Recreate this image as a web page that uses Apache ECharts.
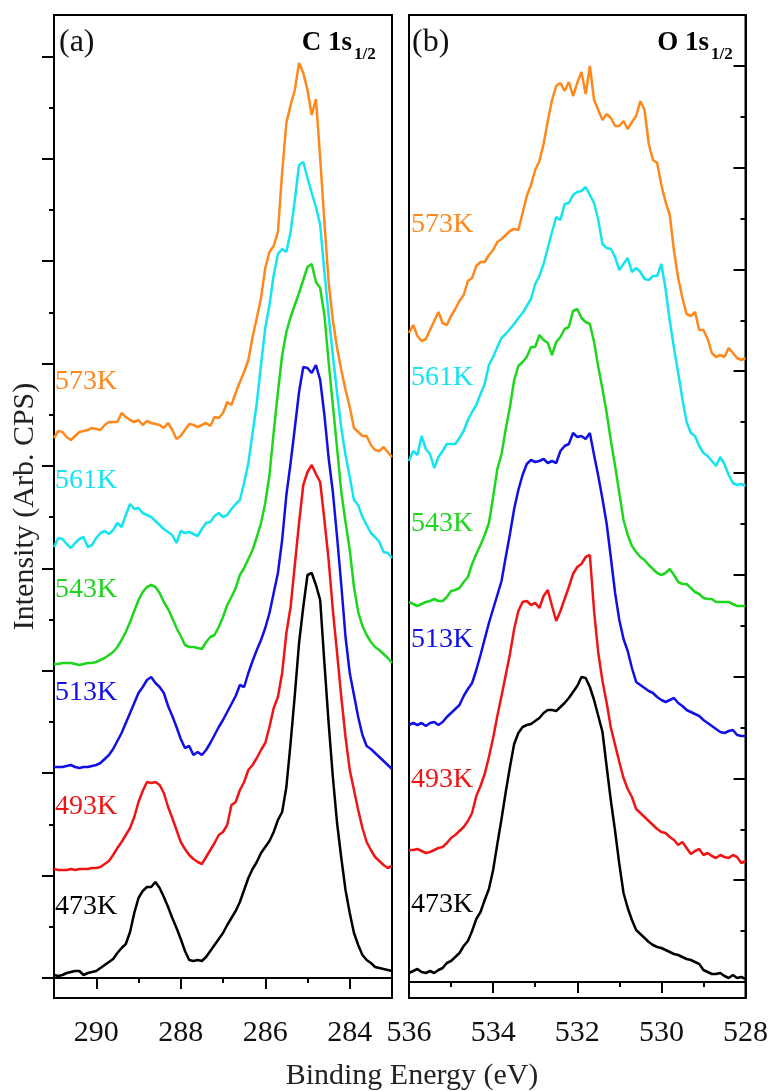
<!DOCTYPE html>
<html>
<head>
<meta charset="utf-8">
<title>XPS C 1s / O 1s</title>
<script src="https://cdn.jsdelivr.net/npm/echarts@6/dist/echarts.min.js"></script>
<style>
  html, body { margin: 0; padding: 0; background: #fff; }
  #chart { width: 771px; height: 1091px; }
</style>
</head>
<body>
<div id="chart"></div>
<script>
// binding energy grids (eV), 0.1 eV steps
const energyC = [
  291.0, 290.9, 290.8, 290.7, 290.6, 290.5, 290.4, 290.3, 290.2, 290.1,
  290.0, 289.9, 289.8, 289.7, 289.6, 289.5, 289.4, 289.3, 289.2, 289.1,
  289.0, 288.9, 288.8, 288.7, 288.6, 288.5, 288.4, 288.3, 288.2, 288.1,
  288.0, 287.9, 287.8, 287.7, 287.6, 287.5, 287.4, 287.3, 287.2, 287.1,
  287.0, 286.9, 286.8, 286.7, 286.6, 286.5, 286.4, 286.3, 286.2, 286.1,
  286.0, 285.9, 285.8, 285.7, 285.6, 285.5, 285.4, 285.3, 285.2, 285.1,
  285.0, 284.9, 284.8, 284.7, 284.6, 284.5, 284.4, 284.3, 284.2, 284.1,
  284.0, 283.9, 283.8, 283.7, 283.6, 283.5, 283.4, 283.3, 283.2, 283.1,
  283.0
]
const energyO = [
  536.0, 535.9, 535.8, 535.7, 535.6, 535.5, 535.4, 535.3, 535.2, 535.1,
  535.0, 534.9, 534.8, 534.7, 534.6, 534.5, 534.4, 534.3, 534.2, 534.1,
  534.0, 533.9, 533.8, 533.7, 533.6, 533.5, 533.4, 533.3, 533.2, 533.1,
  533.0, 532.9, 532.8, 532.7, 532.6, 532.5, 532.4, 532.3, 532.2, 532.1,
  532.0, 531.9, 531.8, 531.7, 531.6, 531.5, 531.4, 531.3, 531.2, 531.1,
  531.0, 530.9, 530.8, 530.7, 530.6, 530.5, 530.4, 530.3, 530.2, 530.1,
  530.0, 529.9, 529.8, 529.7, 529.6, 529.5, 529.4, 529.3, 529.2, 529.1,
  529.0, 528.9, 528.8, 528.7, 528.6, 528.5, 528.4, 528.3, 528.2, 528.1,
  528.0
]

const temps = ['473K', '493K', '513K', '543K', '561K', '573K']
const colors = ['#000000', '#F01414', '#1010E6', '#1ED61E', '#14E4F0', '#FF881C']

// C 1s intensities (arb. CPS, stacked offsets included)
const c473 = [3,2,3,5,6,7,7,3,5,6, 7,10,13,16,19,25,30,34,46,65, 80,87,91,91,96,90,81,71,60,50, 39,27,18,17,18,17,21,27,33,39, 45,53,60,67,76,88,100,109,116,125, 131,137,146,158,166,191,235,283,335,371, 403,405,393,378,315,255,201,155,120,88, 65,45,33,23,18,15,11,10,9,8, 7]
const c493 = [109,108,108,108,109,108,109,109,109,110, 110,111,114,117,123,130,136,143,150,161, 176,187,196,195,196,193,185,171,160,148, 136,129,123,119,116,114,121,128,135,143, 146,153,173,176,188,196,208,213,220,228, 235,251,270,281,305,345,371,413,455,493, 506,513,504,496,458,418,368,325,281,241, 208,188,168,150,136,128,121,117,113,110, 112]
const c513 = [211,211,211,212,213,211,210,211,211,212, 213,215,219,223,229,237,245,255,265,275, 285,291,298,301,295,291,285,272,262,251, 239,230,232,223,226,223,228,235,243,251, 258,266,274,282,293,291,305,317,328,338, 350,365,385,405,438,483,515,550,586,611, 610,605,613,598,563,520,486,441,393,341, 305,283,261,243,232,229,225,221,217,213, 209]
const c543 = [314,314,315,315,315,314,313,314,315,315, 316,318,320,323,326,331,338,346,356,367, 378,386,391,393,391,385,376,369,360,350, 342,333,331,331,330,329,336,341,343,351, 361,373,381,390,403,410,419,428,441,455, 475,503,546,586,623,646,661,673,685,698, 711,714,696,690,663,616,573,530,486,456, 428,391,366,352,343,336,331,328,324,320, 315]
const c561 = [431,440,439,434,430,435,439,441,431,433, 440,445,447,444,448,455,451,463,474,469, 470,465,463,461,457,453,449,446,443,435, 447,445,446,444,442,449,455,456,462,465, 461,463,469,474,478,495,515,545,575,613, 650,673,703,724,729,726,746,778,813,816, 800,785,771,753,706,663,623,585,550,523, 501,478,473,461,453,445,441,436,426,425, 420]
const c573 = [540,547,546,541,538,542,546,547,548,550, 549,548,553,556,556,556,565,561,558,556, 558,553,557,555,554,553,550,555,548,539, 542,548,554,553,551,553,555,552,561,560, 565,576,573,585,596,606,618,641,660,680, 710,726,732,746,806,855,873,888,915,905, 888,863,879,820,756,696,658,630,608,588, 571,550,546,542,542,533,528,527,531,526, 521]

// O 1s intensities (arb. CPS, stacked offsets included)
const o473 = [9,11,13,10,9,11,9,12,14,19, 21,25,29,36,41,51,63,70,82,93, 112,138,163,190,215,238,249,255,257,258, 261,264,269,272,272,271,275,279,284,290, 296,305,304,295,282,266,250,215,181,151, 118,89,74,62,52,48,44,40,37,35, 34,32,30,28,27,25,23,22,20,18, 12,10,8,8,9,6,4,7,4,5, 3]
const o493 = [132,132,133,131,129,130,132,134,135,139, 144,147,151,155,161,169,186,196,208,225, 244,266,286,307,328,353,371,380,381,377, 379,374,386,392,376,361,371,383,395,408, 415,418,425,427,371,329,301,279,254,237, 220,204,193,185,173,169,165,161,157,153, 150,149,145,142,137,140,134,128,131,133, 127,129,126,124,127,125,124,127,125,119, 121]
const o513 = [257,259,257,259,256,259,260,257,260,265, 269,273,277,286,293,299,312,327,343,359, 373,387,401,425,448,473,492,507,518,522, 520,521,523,519,521,519,531,536,538,549, 545,546,543,549,527,506,483,458,424,389, 362,343,331,314,300,297,294,291,289,285, 282,280,282,284,279,276,272,270,268,266, 262,259,256,253,250,249,251,252,247,246, 246]
const o543 = [380,378,376,378,380,381,383,381,381,385, 391,392,394,400,405,418,428,437,447,459, 485,513,528,553,575,602,616,620,625,635, 635,647,642,639,627,640,645,653,655,671, 673,664,660,658,640,615,593,569,541,516, 489,462,447,436,430,425,422,417,413,409, 407,409,413,407,400,398,398,394,390,388, 384,383,383,380,380,380,380,378,376,376, 376]
const o561 = [521,531,527,546,533,528,514,525,531,538, 538,538,544,551,562,570,577,588,598,617, 625,635,644,648,653,658,664,669,676,683, 698,706,718,734,750,765,762,778,779,787, 790,791,795,787,779,762,738,734,733,725, 712,718,724,710,714,710,703,702,706,706, 718,693,661,634,609,583,560,549,546,536, 529,526,521,516,525,518,507,499,497,498, 496]
const o573 = [649,657,646,641,643,652,661,670,659,657, 666,673,681,687,701,704,716,720,720,727, 732,740,743,747,751,753,752,769,786,797, 812,821,838,861,882,896,899,891,900,886, 899,910,888,916,882,872,862,868,864,856, 856,861,853,860,866,881,872,838,822,819, 797,780,767,731,704,684,668,666,670,652, 652,643,629,625,627,625,634,629,624,622, 624]

// x tick values
const cMajor = [284, 286, 288, 290]
const cMinor = [283, 285, 287, 289, 291]
const oMajor = [528, 530, 532, 534, 536]
const oMinor = [529, 531, 533, 535]

const seriesC = [c473, c493, c513, c543, c561, c573]
const seriesO = [o473, o493, o513, o543, o561, o573]

// ---- layout (pixels) ----
const FONT = '"Liberation Serif", "Times New Roman", serif'
const GRID_A = { left: 54, top: 15, width: 338, height: 983 }
const GRID_B = { left: 409, top: 15, width: 338, height: 983 }
const Y_A = { min: -20, max: 963, step: 102.4 }
const Y_B = { min: -16, max: 967, step: 101.8 }
const LABEL_Y_A = [907, 807, 693, 590, 481, 382]
const LABEL_Y_B = [905, 780, 640, 524, 378, 225]

function ticks(step, n, offset) {
  const out = []
  for (let i = 0; i < n; i++) out.push(+(offset + i * step).toFixed(2))
  return out
}

const axisLine = { show: true, lineStyle: { color: '#000', width: 2 } }
const tickStyle = { color: '#000', width: 2 }

function xAxes(gridIndex, min, max, major, minor) {
  return [
    {
      gridIndex, type: 'value', position: 'bottom', inverse: true, min, max,
      axisLine,
      axisTick: { show: true, inside: false, length: 11, lineStyle: tickStyle, customValues: major },
      axisLabel: { show: true, customValues: major, margin: 20, fontSize: 30, fontFamily: FONT, color: '#111' },
      splitLine: { show: false },
    },
    {
      gridIndex, type: 'value', position: 'bottom', inverse: true, min, max,
      axisLine: { show: false },
      axisTick: { show: true, inside: false, length: 5, lineStyle: tickStyle, customValues: minor },
      axisLabel: { show: false },
      splitLine: { show: false },
    },
  ]
}

function yAxes(gridIndex, pos, inside, y, extra) {
  return [
    Object.assign({
      gridIndex, type: 'value', position: pos, min: y.min, max: y.max,
      axisLine,
      axisTick: { show: true, inside, length: 12, lineStyle: tickStyle, customValues: ticks(y.step, 10, 0) },
      axisLabel: { show: false },
      splitLine: { show: false },
    }, extra),
    {
      gridIndex, type: 'value', position: pos, min: y.min, max: y.max,
      axisLine: { show: false },
      axisTick: { show: true, inside, length: 5, lineStyle: tickStyle, customValues: ticks(y.step, 9, y.step / 2) },
      axisLabel: { show: false },
      splitLine: { show: false },
    },
  ]
}

function lines(energies, data, xAxisIndex, yAxisIndex) {
  return data.map((vals, i) => ({
    type: 'line',
    name: temps[i],
    xAxisIndex, yAxisIndex,
    data: energies.map((e, j) => [e, vals[j]]),
    showSymbol: false,
    symbol: 'none',
    lineStyle: { color: colors[i], width: 2.5 },
    z: 2 + i,
    silent: true,
  }))
}

function text(x, y, str, size, color, opts) {
  return {
    type: 'text', x, y, silent: true,
    style: Object.assign({
      text: str, fill: color, fontSize: size, fontFamily: FONT,
      textAlign: 'left', textVerticalAlign: 'middle', align: 'left', verticalAlign: 'middle',
    }, opts || {}),
  }
}

const graphics = []
temps.forEach((t, i) => {
  graphics.push(text(55, LABEL_Y_A[i], t, 28, colors[i]))
  graphics.push(text(411, LABEL_Y_B[i], t, 28, colors[i]))
})
graphics.push(text(59, 43, '(a)', 32, '#111'))
graphics.push(text(412, 43, '(b)', 32, '#111'))
graphics.push(text(352, 43, 'C 1s', 27, '#000', { fontWeight: 'bold', textAlign: 'right', align: 'right' }))
graphics.push(text(354, 55, '1/2', 17, '#000', { fontWeight: 'bold' }))
graphics.push(text(709, 43, 'O 1s', 27, '#000', { fontWeight: 'bold', textAlign: 'right', align: 'right' }))
graphics.push(text(711, 55, '1/2', 17, '#000', { fontWeight: 'bold' }))
graphics.push(text(412, 1076, 'Binding Energy (eV)', 30, '#222', { textAlign: 'center', align: 'center' }))

const gridStyle = { show: true, borderColor: '#000', borderWidth: 2, backgroundColor: 'transparent', containLabel: false }

const option = {
  animation: false,
  backgroundColor: '#fff',
  grid: [Object.assign({}, GRID_A, gridStyle), Object.assign({}, GRID_B, gridStyle)],
  xAxis: [].concat(
    xAxes(0, 283, 291, cMajor, cMinor),
    xAxes(1, 528, 536, oMajor, oMinor)
  ),
  yAxis: [].concat(
    yAxes(0, 'left', false, Y_A, {
      name: 'Intensity (Arb. CPS)', nameLocation: 'middle', nameGap: 14,
      nameTextStyle: { fontSize: 30, fontFamily: FONT, color: '#222' },
    }),
    yAxes(1, 'right', true, Y_B, {})
  ),
  series: [].concat(
    lines(energyC, seriesC, 0, 0),
    lines(energyO, seriesO, 2, 2)
  ),
  graphic: graphics,
}

const chart = echarts.init(document.getElementById('chart'), null, { renderer: 'canvas' })
chart.setOption(option)
</script>
</body>
</html>
